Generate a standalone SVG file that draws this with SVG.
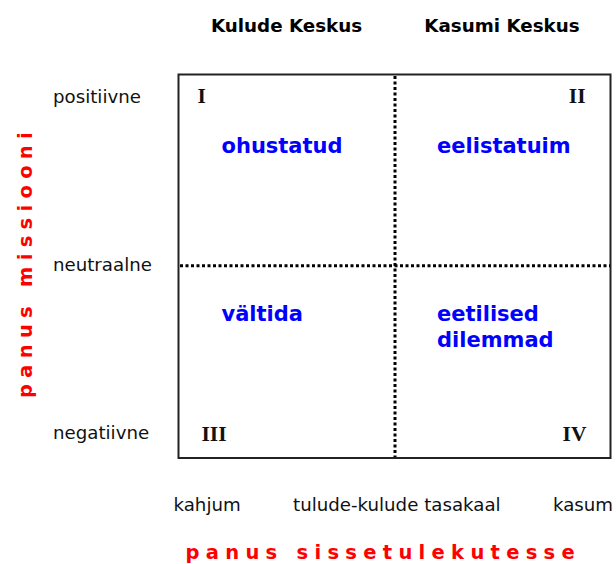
<svg xmlns="http://www.w3.org/2000/svg" width="616" height="564" viewBox="0 0 616 564">
<style>
.hdr{font-family:"DejaVu Sans",Verdana,sans-serif;font-weight:bold;font-size:18.3px;fill:#000}
.lbl{font-family:"DejaVu Sans",Verdana,sans-serif;font-size:18.2px;fill:#111}
.q{font-family:"DejaVu Sans",Verdana,sans-serif;font-weight:bold;font-size:21px;fill:#0000ff}
.rn{font-family:"Liberation Serif","Times New Roman",serif;font-weight:bold;font-size:21.5px;fill:#111}
.axis{font-family:"DejaVu Sans",Verdana,sans-serif;font-weight:bold;font-size:19.5px;fill:#ff0000;letter-spacing:6.3px}
.dot{stroke:#000;stroke-width:3;stroke-dasharray:3 2.5;fill:none}
</style>
<rect x="0" y="0" width="616" height="564" fill="#fff"/>
<g id="frame">
<rect x="178.5" y="74.5" width="432" height="383.5" fill="none" stroke="#222" stroke-width="2"/>
</g>
<g id="dividers">
<line class="dot" x1="395" y1="76" x2="395" y2="457"/>
<line class="dot" x1="180" y1="265.7" x2="610" y2="265.7"/>
</g>
<g id="headers">
<text class="hdr" x="286.5" y="31.5" text-anchor="middle">Kulude Keskus</text>
<text class="hdr" x="502" y="31.5" text-anchor="middle">Kasumi Keskus</text>
</g>
<g id="y-labels">
<text class="lbl" x="53" y="103.3">positiivne</text>
<text class="lbl" x="53" y="270.7">neutraalne</text>
<text class="lbl" x="53" y="439.3">negatiivne</text>
</g>
<g id="x-labels">
<text class="lbl" x="173.5" y="510.7">kahjum</text>
<text class="lbl" x="293" y="510.7">tulude-kulude tasakaal</text>
<text class="lbl" x="553" y="510.7">kasum</text>
</g>
<g id="quadrant-I">
<text class="rn" x="197.5" y="103.3">I</text>
<text class="q" x="221.5" y="152.5">ohustatud</text>
</g>
<g id="quadrant-II">
<text class="rn" x="585.5" y="103.3" text-anchor="end">II</text>
<text class="q" x="437" y="152.5">eelistatuim</text>
</g>
<g id="quadrant-III">
<text class="rn" x="201.5" y="440.7">III</text>
<text class="q" x="221.5" y="320.7">vältida</text>
</g>
<g id="quadrant-IV">
<text class="rn" x="586.5" y="440.7" text-anchor="end">IV</text>
<text class="q" x="437" y="320.7">eetilised</text>
<text class="q" x="437" y="346.7">dilemmad</text>
</g>
<g id="axis-titles">
<text class="axis" transform="translate(32,398) rotate(-90)" x="0" y="0">panus missiooni</text>
<text class="axis" x="185.5" y="558.5">panus sissetulekutesse</text>
</g>
</svg>
